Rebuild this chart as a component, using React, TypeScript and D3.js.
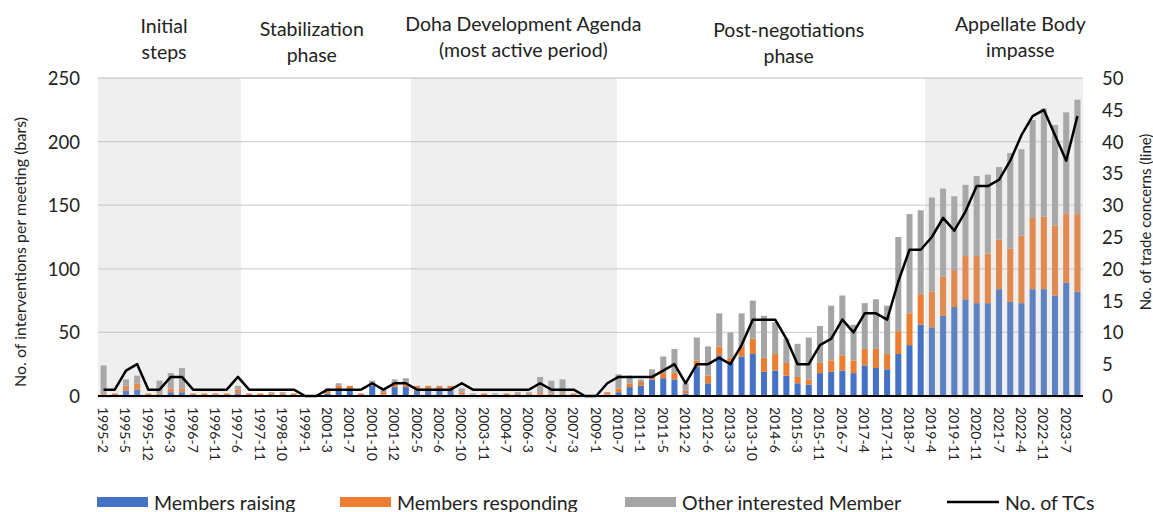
import * as d3 from "d3";

// one label every second meeting
const tickLabels = [
  "1995-2", "1995-5", "1995-12", "1996-3", "1996-7", "1996-11", "1997-6", "1997-11",
  "1998-10", "1999-1", "2001-3", "2001-7", "2001-10", "2001-12", "2002-5", "2002-6",
  "2002-10", "2003-11", "2004-7", "2006-3", "2006-7", "2007-3", "2009-1", "2010-7",
  "2011-1", "2011-5", "2012-2", "2012-6", "2013-3", "2013-10", "2014-6", "2015-3",
  "2015-11", "2016-7", "2017-4", "2017-11", "2018-7", "2019-4", "2019-11", "2020-11",
  "2021-7", "2022-4", "2022-11", "2023-7",
];

const raising = [
  0, 0, 4, 5, 0, 0, 3, 3, 0, 0, 0, 0, 2, 0, 0, 0, 0, 0, 0, 0,
  2, 6, 6, 0, 8, 1, 7, 7, 4, 4, 4, 4, 1, 0, 0, 0, 0, 0, 0, 1,
  0, 0, 0, 0, 0, 1, 3, 7, 8, 13, 14, 13, 2, 23, 10, 32, 26, 31, 33, 19,
  20, 16, 10, 9, 18, 19, 20, 18, 24, 22, 21, 33, 40, 56, 54, 63, 70, 76, 73, 73,
  84, 74, 73, 84, 84, 79, 89, 82,
];
const responding = [
  2, 2, 4, 5, 2, 2, 3, 3, 2, 2, 2, 2, 3, 2, 2, 2, 2, 2, 0, 0,
  2, 2, 2, 2, 1, 2, 2, 2, 4, 4, 4, 4, 2, 1, 2, 1, 2, 2, 2, 2,
  2, 2, 2, 0, 0, 2, 3, 3, 3, 2, 4, 5, 2, 5, 6, 7, 4, 8, 12, 11,
  13, 10, 5, 4, 8, 9, 12, 10, 13, 15, 12, 18, 25, 24, 28, 31, 29, 34, 37, 39,
  39, 42, 53, 56, 57, 55, 54, 61,
];
const other = [
  22, 0, 5, 6, 0, 10, 12, 16, 0, 0, 0, 0, 3, 0, 0, 1, 1, 0, 0, 0,
  2, 2, 0, 0, 3, 2, 4, 5, 0, 0, 0, 0, 3, 1, 0, 1, 0, 1, 1, 12,
  10, 11, 0, 0, 0, 0, 11, 6, 2, 6, 13, 19, 6, 18, 23, 26, 20, 26, 30, 33,
  25, 19, 26, 33, 29, 43, 47, 28, 36, 39, 38, 74, 78, 66, 74, 69, 58, 56, 63, 62,
  57, 75, 68, 77, 85, 79, 80, 90,
];
const tradeConcerns = [
  1, 1, 4, 5, 1, 1, 3, 3, 1, 1, 1, 1, 3, 1, 1, 1, 1, 1, 0, 0,
  1, 1, 1, 1, 2, 1, 2, 2, 1, 1, 1, 1, 2, 1, 1, 1, 1, 1, 1, 2,
  1, 1, 1, 0, 0, 2, 3, 3, 3, 3, 4, 5, 2, 5, 5, 6, 5, 8, 12, 12,
  12, 9, 5, 5, 8, 9, 12, 10, 13, 13, 12, 18, 23, 23, 25, 28, 26, 29, 33, 33,
  34, 37, 41, 44, 45, 41, 37, 44,
];

const seriesKeys = ["raising", "responding", "other"];
const seriesNames = ["Members raising", "Members responding", "Other interested Member"];
const seriesColors = ["#4472C4", "#ED7D31", "#A5A5A5"];

const phaseNames = [
  ["Initial", "steps"],
  ["Stabilization", "phase"],
  ["Doha Development Agenda", "(most active period)"],
  ["Post-negotiations", "phase"],
  ["Appellate Body", "impasse"],
];
// shaded phases, in meeting-index units
const shadedPhases = [
  [0, 12.75],
  [27.95, 46.35],
  [73.9, 88],
];

const W = 1153;
const H = 512;
const FONT = "Lato, 'Open Sans', sans-serif";
const left = 98;
const right = 1083;
const top = 78;
const bottom = 396;

// label centres (meeting-index units) and first-line baselines
const phaseLabelX = [5.9, 19.1, 38, 61.7, 82.4];
const phaseLabelY = [33, 36, 31, 37, 31];

export default function App() {
  const n = raising.length;
  const rows = d3.range(n).map((i) => ({
    raising: raising[i],
    responding: responding[i],
    other: other[i],
  }));
  const stacked = d3.stack<any>().keys(seriesKeys)(rows);

  const x = d3
    .scaleBand<number>()
    .domain(d3.range(n))
    .range([left, right])
    .paddingInner(0.46)
    .paddingOuter(0.23);
  const pos = d3.scaleLinear().domain([0, n]).range([left, right]);
  const yL = d3.scaleLinear().domain([0, 250]).range([bottom, top]);
  const yR = d3.scaleLinear().domain([0, 50]).range([bottom, top]);
  const cx = (i: number) => (x(i) as number) + x.bandwidth() / 2;

  const line = d3
    .line<number>()
    .x((_, i) => cx(i))
    .y((d) => yR(d));

  const leftTicks = yL.ticks(5);
  const rightTicks = d3.range(0, 51, 5);

  const legendX = [97, 340, 625, 947];

  return (
    <svg
      width={W}
      height={H}
      style={{ position: "absolute", left: 0, top: 0, background: "#fff" }}
      fontFamily={FONT}
    >
      {/* gridlines */}
      {leftTicks
        .filter((t) => t > 0)
        .map((t) => (
          <line key={t} x1={left} x2={right} y1={yL(t)} y2={yL(t)} stroke="#d4d4d4" strokeWidth={1.3} />
        ))}

      {/* stacked bars */}
      {stacked.map((s, si) => (
        <g key={s.key} fill={seriesColors[si]}>
          {s.map((d, i) =>
            d[1] - d[0] > 0 ? (
              <rect key={i} x={x(i)} width={x.bandwidth()} y={yL(d[1])} height={yL(d[0]) - yL(d[1])} />
            ) : null
          )}
        </g>
      ))}

      {/* phase shading */}
      {shadedPhases.map(([a, b], i) => (
        <rect key={i} x={pos(a)} y={top} width={pos(b) - pos(a)} height={bottom - top + 3} fill="#b5b5b5" fillOpacity={0.22} />
      ))}

      {/* x axis */}
      <line x1={left} x2={right} y1={bottom} y2={bottom} stroke="#000" strokeWidth={2} />

      {/* trade concerns line */}
      <path d={line(tradeConcerns) ?? ""} fill="none" stroke="#000" strokeWidth={2.5} strokeLinejoin="round" />

      {/* phase titles */}
      {phaseNames.map((lines, i) => (
        <text key={i} x={pos(phaseLabelX[i])} y={phaseLabelY[i]} textAnchor="middle" fontSize={19.5} fill="#222">
          {lines.map((l, j) => (
            <tspan key={j} x={pos(phaseLabelX[i])} dy={j === 0 ? 0 : 26}>
              {l}
            </tspan>
          ))}
        </text>
      ))}

      {/* left axis */}
      {leftTicks.map((t) => (
        <text key={t} x={80} y={yL(t)} textAnchor="end" dominantBaseline="central" fontSize={18.5} fill="#222">
          {t}
        </text>
      ))}
      {/* right axis */}
      {rightTicks.map((t) => (
        <text key={t} x={1102} y={yR(t)} textAnchor="start" dominantBaseline="central" fontSize={18.5} fill="#222">
          {t}
        </text>
      ))}

      {/* x tick labels */}
      {d3.range(0, n, 2).map((i) => (
        <text
          key={i}
          transform={`translate(${cx(i)},407) rotate(90)`}
          textAnchor="start"
          dominantBaseline="central"
          fontSize={14}
          fill="#222"
        >
          {tickLabels[i / 2]}
        </text>
      ))}

      {/* axis titles */}
      <text transform="translate(19,252) rotate(-90)" textAnchor="middle" dominantBaseline="central" fontSize={16} fill="#222">
        No. of interventions per meeting (bars)
      </text>
      <text transform="translate(1145,222) rotate(-90)" textAnchor="middle" dominantBaseline="central" fontSize={15} fill="#222">
        No. of trade concerns (line)
      </text>

      {/* legend */}
      {seriesNames.map((name, i) => (
        <g key={name}>
          <rect x={legendX[i]} y={497} width={51} height={10} fill={seriesColors[i]} />
          <text x={legendX[i] + 57} y={502} dominantBaseline="central" fontSize={19.5} fill="#222">
            {name}
          </text>
        </g>
      ))}
      <line x1={legendX[3]} x2={legendX[3] + 52} y1={502} y2={502} stroke="#000" strokeWidth={2.5} />
      <text x={legendX[3] + 58} y={502} dominantBaseline="central" fontSize={19.5} fill="#222">
        No. of TCs
      </text>
    </svg>
  );
}
